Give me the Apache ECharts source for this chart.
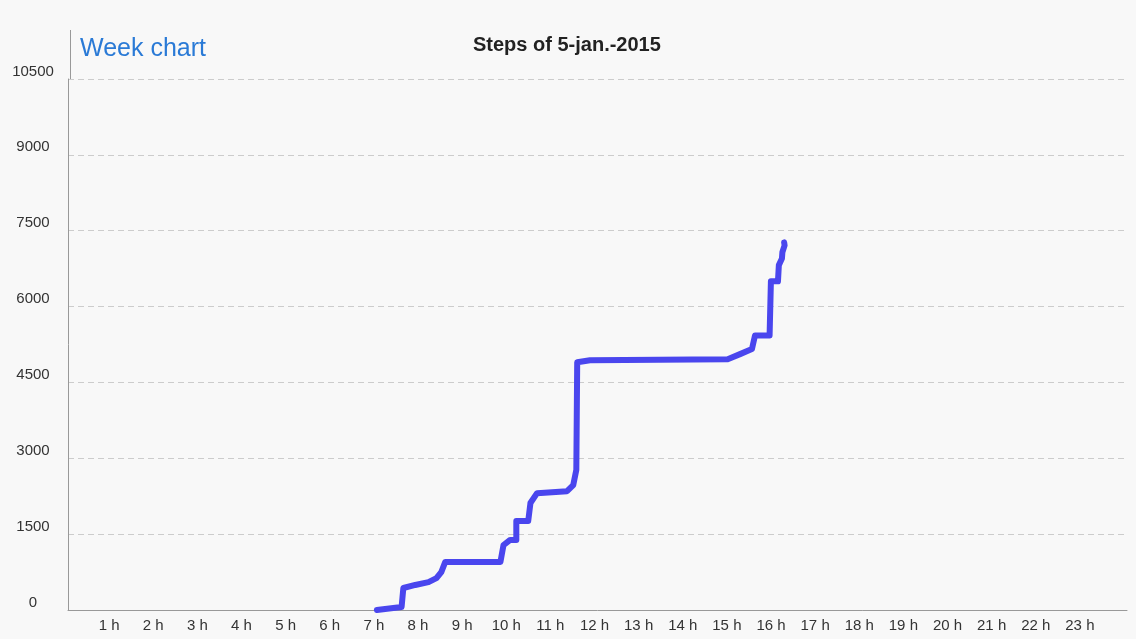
<!DOCTYPE html>
<html><head><meta charset="utf-8">
<script src="https://cdn.jsdelivr.net/npm/echarts@6/dist/echarts.min.js"></script>
<style>html,body{margin:0;background:#f8f8f8}#c{width:1136px;height:639px}</style>
</head><body><div id="c"></div>
<script>
const hours = [7.0,7.56,7.6,7.87,8.17,8.35,8.46,8.55,9.8,9.87,10.02,10.16,10.16,10.43,10.48,10.63,11.31,11.45,11.52,11.54,11.83,14.95,15.23,15.5,15.57,15.9,15.93,16.09,16.11,16.18,16.19,16.24,16.23];
const steps = [0,60,435,495,550,630,750,950,950,1285,1385,1385,1760,1760,2115,2310,2350,2470,2770,4900,4940,4960,5060,5160,5430,5430,6500,6500,6820,6950,7075,7210,7270];
const yTicks = [0,1500,3000,4500,6000,7500,9000,10500];
const chart = echarts.init(document.getElementById('c'));
chart.setOption({
  backgroundColor:'#f8f8f8',
  title:[{text:'Steps of 5-jan.-2015',left:468,top:30,textStyle:{fontFamily:'Liberation Sans',fontSize:20,fontWeight:'bold',color:'#222'}},
         {text:'Week chart',left:75,top:32,textStyle:{fontFamily:'Liberation Sans',fontSize:25,fontWeight:'normal',color:'#2a7ad6'}}],
  grid:{left:68,right:9,top:79,bottom:29},
  graphic:[{type:'line',shape:{x1:70.5,y1:30,x2:70.5,y2:79},style:{stroke:'#999',lineWidth:1}}],
  xAxis:{type:'value',min:0,max:24,interval:1,
    axisLine:{lineStyle:{color:'#999'}},axisTick:{show:false},splitLine:{show:false},
    axisLabel:{color:'#333',fontSize:15,fontFamily:'Liberation Sans',margin:8,padding:[0,6,0,0],
      formatter:v=>(v>0&&v<24)?v+' h':''}},
  yAxis:{type:'value',min:0,max:10500,interval:1500,
    axisLine:{show:true,lineStyle:{color:'#999'}},axisTick:{show:false},
    splitLine:{lineStyle:{color:'#ccc',type:[6,4]}},
    axisLabel:{color:'#333',fontSize:15,fontFamily:'Liberation Sans',align:'center',margin:35,verticalAlign:'bottom',
      formatter:v=>yTicks.includes(v)?String(v):''}},
  series:[{type:'line',data:hours.map((h,i)=>[h,steps[i]]),showSymbol:false,
    lineStyle:{color:'#4a46ee',width:6,cap:'round',join:'round'}}]
});
</script></body></html>
